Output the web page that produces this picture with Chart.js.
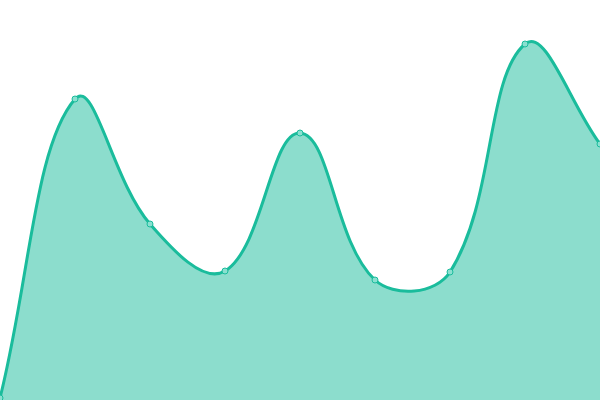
<!DOCTYPE html>
<html>
<head>
<meta charset="utf-8">
<script src="https://cdn.jsdelivr.net/npm/chart.js@4.4.0/dist/chart.umd.min.js"></script>
<style>
  html, body { margin: 0; padding: 0; background: #ffffff; }
  #wrap { width: 600px; height: 400px; }
</style>
</head>
<body>
<div id="wrap"><canvas id="areaChart"></canvas></div>
<script>
const LABELS = ["1", "2", "3", "4", "5", "6", "7", "8", "9"];
const VALUES = [0.5, 75.25, 44, 32.25, 66.75, 30, 32, 89, 64];

const LINE_COLOR = "#1abc9c";
const FILL_COLOR = "rgba(26, 188, 156, 0.5)";

const ctx = document.getElementById("areaChart");

new Chart(ctx, {
  type: "line",
  data: {
    labels: LABELS,
    datasets: [
      {
        data: VALUES,
        fill: true,
        tension: 0.4,
        borderColor: LINE_COLOR,
        borderWidth: 3,
        backgroundColor: FILL_COLOR,
        pointRadius: 3,
        pointBorderWidth: 1,
        pointBorderColor: LINE_COLOR,
        pointBackgroundColor: "#8ae0d0",
      },
    ],
  },
  options: {
    responsive: true,
    maintainAspectRatio: false,
    animation: false,
    layout: { padding: 0, autoPadding: false },
    plugins: {
      legend: { display: false },
      tooltip: { enabled: false },
    },
    scales: {
      x: { display: false, offset: false },
      y: { display: false, min: 0, max: 100 },
    },
  },
});
</script>
</body>
</html>
